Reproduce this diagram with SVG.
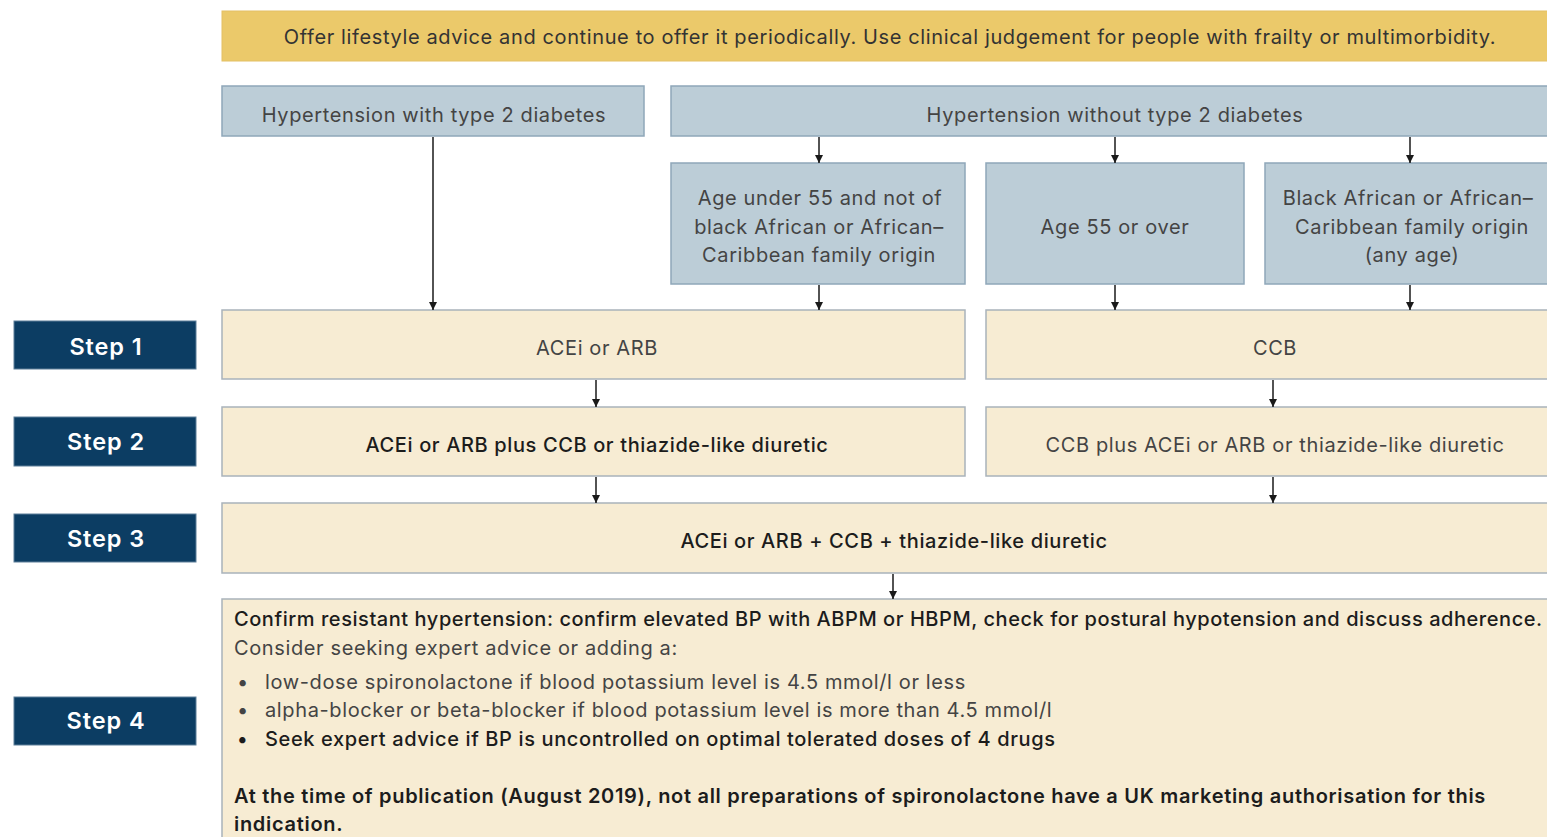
<svg xmlns="http://www.w3.org/2000/svg" width="1547" height="837" viewBox="0 0 1547 837">
<defs>
<style>
text{font-family:Inter,"Noto Sans","Liberation Sans",sans-serif;font-size:20px;letter-spacing:0.62px;fill:#444}
.c{text-anchor:middle}
.d{fill:#1c1c1c;font-weight:500}
.b{fill:#1c1c1c;font-weight:600;letter-spacing:0.7px}
.blue{fill:#bccdd7;stroke:#8fa7b9;stroke-width:1.5}
.pale{fill:#f7ecd3;stroke:#a9b3bb;stroke-width:1.5}
.step{fill:#0c3d63;stroke:#5d7f99;stroke-width:1}
.stept{fill:#fff;font-weight:600;font-size:23.5px;letter-spacing:0.9px;text-anchor:middle}
.conn line{stroke:#1a1a1a;stroke-width:1.5;marker-end:url(#ah)}
</style>
<marker id="ah" viewBox="0 0 10 10" refX="10" refY="5" markerWidth="8" markerHeight="9" markerUnits="userSpaceOnUse" orient="auto">
<path d="M0,0 L10,5 L0,10 z" fill="#1a1a1a"/>
</marker>
</defs>
<rect width="1547" height="837" fill="#fff"/>

<g id="banner">
<rect x="222" y="11" width="1340" height="50" fill="#ebc96a" stroke="#e3c065" stroke-width="1"/>
<text x="890" y="44" class="c" style="fill:#333">Offer lifestyle advice and continue to offer it periodically. Use clinical judgement for people with frailty or multimorbidity.</text>
</g>

<g id="with-diabetes">
<rect x="222" y="86" width="422" height="50" class="blue"/>
<text x="434" y="122" class="c">Hypertension with type 2 diabetes</text>
</g>
<g id="without-diabetes">
<rect x="671" y="86" width="890" height="50" class="blue"/>
<text x="1115" y="122" class="c">Hypertension without type 2 diabetes</text>
</g>

<g id="under55">
<rect x="671" y="163" width="294" height="121" class="blue"/>
<text x="820" y="205" class="c">Age under 55 and not of</text>
<text x="819" y="234" class="c">black African or African–</text>
<text x="819" y="262" class="c">Caribbean family origin</text>
</g>
<g id="over55">
<rect x="986" y="163" width="258" height="121" class="blue"/>
<text x="1115" y="234" class="c">Age 55 or over</text>
</g>
<g id="black-african">
<rect x="1265" y="163" width="296" height="121" class="blue"/>
<text x="1408" y="205" class="c">Black African or African–</text>
<text x="1412" y="234" class="c">Caribbean family origin</text>
<text x="1412" y="262" class="c">(any age)</text>
</g>

<g id="step1-label"><rect x="14" y="321" width="182" height="48" class="step"/><text x="106" y="355" class="stept">Step 1</text></g>
<g id="step2-label"><rect x="14" y="417" width="182" height="49" class="step"/><text x="106" y="450" class="stept">Step 2</text></g>
<g id="step3-label"><rect x="14" y="514" width="182" height="48" class="step"/><text x="106" y="547" class="stept">Step 3</text></g>
<g id="step4-label"><rect x="14" y="697" width="182" height="48" class="step"/><text x="106" y="729" class="stept">Step 4</text></g>

<g id="acei-arb">
<rect x="222" y="310" width="743" height="69" class="pale"/>
<text x="597" y="355" class="c">ACEi or ARB</text>
</g>
<g id="ccb">
<rect x="986" y="310" width="575" height="69" class="pale"/>
<text x="1275" y="355" class="c">CCB</text>
</g>
<g id="acei-plus">
<rect x="222" y="407" width="743" height="69" class="pale"/>
<text x="597" y="452" class="c d">ACEi or ARB plus CCB or thiazide-like diuretic</text>
</g>
<g id="ccb-plus">
<rect x="986" y="407" width="575" height="69" class="pale"/>
<text x="1275" y="452" class="c">CCB plus ACEi or ARB or thiazide-like diuretic</text>
</g>
<g id="step3">
<rect x="222" y="503" width="1339" height="70" class="pale"/>
<text x="894" y="548" class="c d">ACEi or ARB + CCB + thiazide-like diuretic</text>
</g>
<g id="step4">
<rect x="222" y="599" width="1339" height="250" class="pale"/>
<text x="234" y="626" class="d" style="letter-spacing:0.55px">Confirm resistant hypertension: confirm elevated BP with ABPM or HBPM, check for postural hypotension and discuss adherence.</text>
<text x="234" y="655">Consider seeking expert advice or adding a:</text>
<text x="237" y="689">•</text><text x="265" y="689">low-dose spironolactone if blood potassium level is 4.5 mmol/l or less</text>
<text x="237" y="717">•</text><text x="265" y="717">alpha-blocker or beta-blocker if blood potassium level is more than 4.5 mmol/l</text>
<text x="237" y="746" class="d">•</text><text x="265" y="746" class="d">Seek expert advice if BP is uncontrolled on optimal tolerated doses of 4 drugs</text>
<text x="234" y="803" class="b">At the time of publication (August 2019), not all preparations of spironolactone have a UK marketing authorisation for this</text>
<text x="234" y="831" class="b">indication.</text>
</g>

<g id="connectors" class="conn">
<line x1="433" y1="137" x2="433" y2="310"/>
<line x1="819" y1="137" x2="819" y2="163"/>
<line x1="1115" y1="137" x2="1115" y2="163"/>
<line x1="1410" y1="137" x2="1410" y2="163"/>
<line x1="819" y1="285" x2="819" y2="310"/>
<line x1="1115" y1="285" x2="1115" y2="310"/>
<line x1="1410" y1="285" x2="1410" y2="310"/>
<line x1="596" y1="380" x2="596" y2="407"/>
<line x1="1273" y1="380" x2="1273" y2="407"/>
<line x1="596" y1="477" x2="596" y2="503"/>
<line x1="1273" y1="477" x2="1273" y2="503"/>
<line x1="893" y1="574" x2="893" y2="599"/>
</g>
</svg>
